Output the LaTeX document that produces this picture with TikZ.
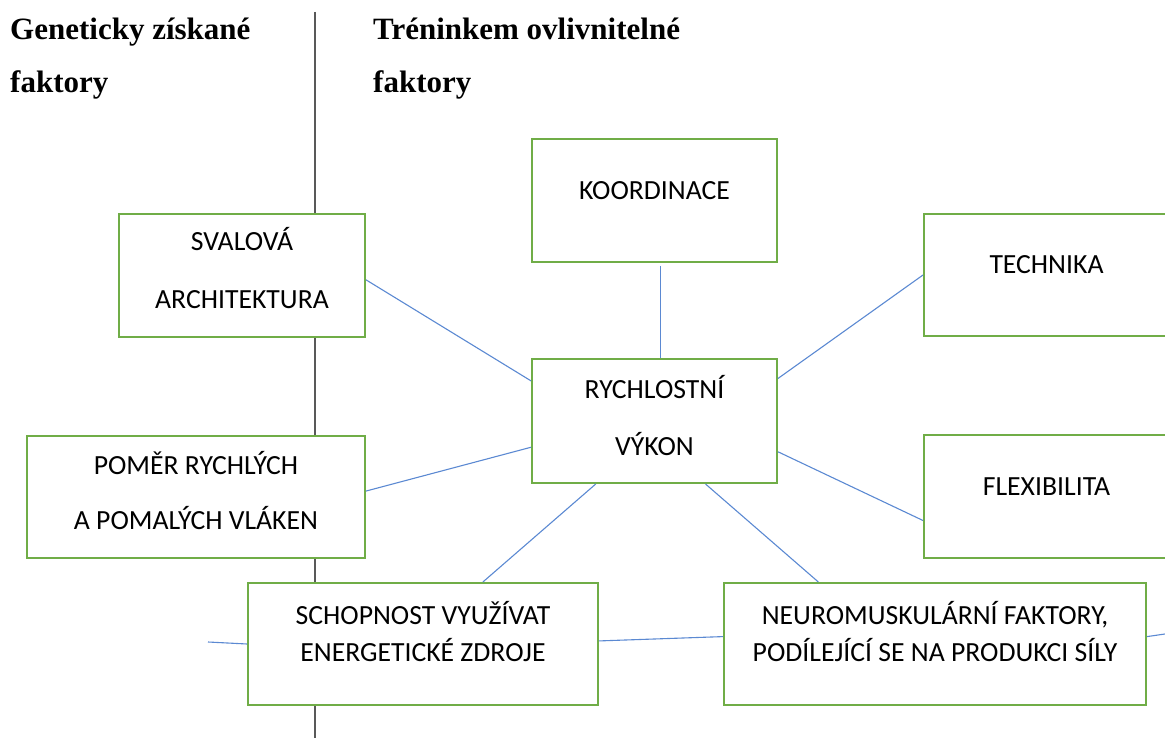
\documentclass[tikz,border=0pt]{standalone}
\usepackage{fontspec}
\setmainfont{Liberation Serif}
\newfontfamily\boxfamily{Carlito}
\definecolor{boxgreen}{RGB}{112,173,71}
\definecolor{linkblue}{RGB}{91,137,210}
\definecolor{divgray}{gray}{0.35}

\begin{document}
\begin{tikzpicture}[x=1pt,y=-1pt,
  box/.style={draw=boxgreen, line width=2pt, fill=white, anchor=north,
    inner sep=0pt, align=center, font=\boxfamily\fontsize{27.7}{37}\selectfont},
  boxsize/.style n args={3}{minimum width=#1, text height=#2, text depth=#3},
  head/.style={anchor=north west, inner sep=0pt, align=left,
    font=\bfseries\fontsize{31}{53}\selectfont, text height=83, text depth=10},
  link/.style={draw=linkblue, line width=1.1pt}]
\useasboundingbox (0,0) rectangle (1165,738);
\clip (0,0) rectangle (1165,738);

% dividing line between the two groups
\coordinate (divtop) at (315,12);
\coordinate (divbot) at (315,738);
\draw[divgray, line width=1.4pt] (divtop) -- (divbot);

% headings
\node[head] (genhead) at (10,9) {Geneticky získané\\faktory};
\node[head] (trnhead) at (373,9) {Tréninkem ovlivnitelné\\faktory};

% boxes
\node[box, boxsize={245}{61}{62}] (koord) at (654.5,138) {KOORDINACE};
\node[box, boxsize={246}{94}{29}] (sval) at (242,213) {SVALOVÁ\\[21pt]ARCHITEKTURA};
\node[box, boxsize={245}{59}{63}] (tech) at (1046.5,213) {TECHNIKA};
\node[box, boxsize={245}{96}{28}] (rych) at (654.5,358) {RYCHLOSTNÍ\\[20pt]VÝKON};
\node[box, boxsize={338}{93}{29}] (pomer) at (196,435) {POMĚR RYCHLÝCH\\[18pt]A POMALÝCH VLÁKEN};
\node[box, boxsize={245}{60}{63}] (flex) at (1046.5,434) {FLEXIBILITA};
\node[box, boxsize={350}{78}{44}] (schop) at (423,582) {SCHOPNOST VYUŽÍVAT\\ENERGETICKÉ ZDROJE};
\node[box, boxsize={422}{78}{44}] (neuro) at (935,582) {NEUROMUSKULÁRNÍ FAKTORY,\\PODÍLEJÍCÍ SE NA PRODUKCI SÍLY};

% free ends of the side stubs
\coordinate (lstub) at (208,642);
\coordinate (rstub) at (1165,634);

% connectors
\draw[link] ([xshift=6pt,yshift=-3pt]koord.south) -- ([xshift=6pt]rych.north);
\draw[link] (sval.-2) -- (rych.162);
\draw[link] (tech.west) -- (rych.19);
\draw[link] (pomer.2) -- (rych.192);
\draw[link] (flex.191) -- (rych.-14);
\draw[link] (rych.227) -- (schop.46);
\draw[link] (rych.-51) -- (neuro.152);
\draw[link] (schop.1) -- (neuro.178);
\draw[link] (lstub) -- (schop.west);
\draw[link] (neuro.2) -- (rstub);
\end{tikzpicture}
\end{document}
